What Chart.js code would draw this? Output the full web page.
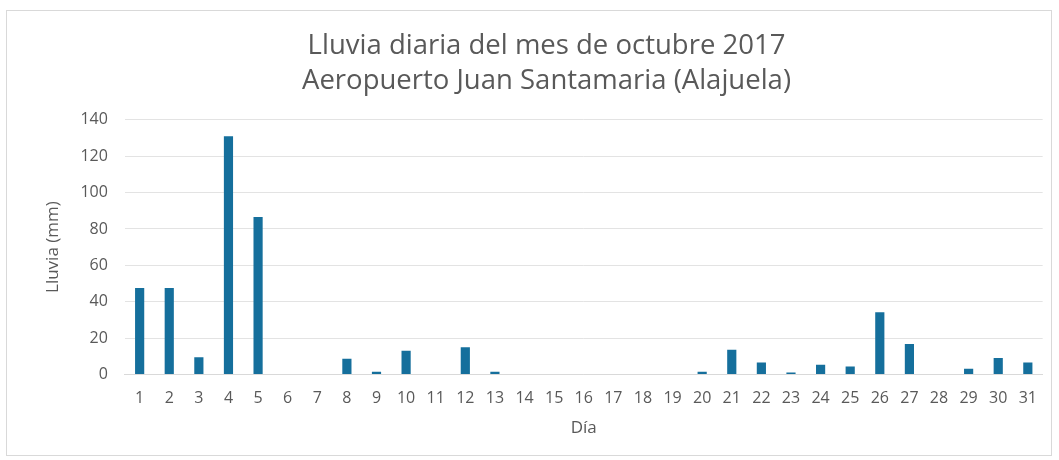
<!DOCTYPE html>
<html>
<head>
<meta charset="utf-8">
<script src="https://cdn.jsdelivr.net/npm/chart.js@4/dist/chart.umd.min.js"></script>
<style>
  body { margin: 0; background: #fff; }
  #box { position: absolute; left: 6px; top: 10px; width: 1044px; height: 444px; border: 1px solid #d9d9d9; }
</style>
</head>
<body>
<div id="box"><canvas id="lluvia" width="1044" height="444"></canvas></div>
<script>
let dias = ['1','2','3','4','5','6','7','8','9','10','11','12','13','14','15','16','17','18','19','20','21','22','23','24','25','26','27','28','29','30','31'];
let lluvia = [47.5, 47.5, 9.4, 131, 86.5, 0, 0, 8.6, 1.5, 13, 0, 15, 1.5, 0, 0, 0, 0, 0, 0, 1.5, 13.6, 6.6, 1, 5.3, 4.4, 34.2, 16.7, 0, 3.1, 9, 6.6];
let titulo = ['Lluvia diaria del mes de octubre 2017', 'Aeropuerto Juan Santamaria (Alajuela)'];
let gris = '#595959';

let ctx = document.getElementById('lluvia').getContext('2d');

const chart = new Chart(ctx,
  {
    type: 'bar',
    data:
    {
      labels: dias,
      datasets:
        [{
          data: lluvia,
          backgroundColor: '#156f9c',
          barPercentage: 0.31,
          categoryPercentage: 1
        }]
    },
    options:
    {
      responsive: false,
      animation: false,
      layout: { padding: { left: 36, right: 1, top: 8, bottom: 17 } },
      plugins:
      {
        legend: { display: false },
        tooltip: { enabled: false },
        title:
        {
          display: true,
          text: titulo,
          color: gris,
          font: { family: 'Open Sans', size: 27.5, weight: 'normal', lineHeight: 1.27 },
          padding: { top: 10, bottom: 21 }
        }
      },
      scales:
      {
        x:
        {
          grid: { display: false, drawTicks: false },
          border: { color: '#d9d9d9' },
          ticks: { color: gris, padding: 14, font: { family: 'Open Sans', size: 16 }, maxRotation: 0, autoSkip: false },
          title: { display: true, text: 'Día', color: gris, padding: { top: -4, bottom: 0 }, font: { family: 'Open Sans', size: 17 } }
        },
        y:
        {
          min: 0,
          max: 140,
          grid: { color: '#e3e3e3', drawTicks: false },
          border: { display: false },
          ticks: { stepSize: 20, color: gris, padding: 17, font: { family: 'Open Sans', size: 16 } },
          title: { display: true, text: 'Lluvia (mm)', color: gris, padding: { top: 0, bottom: 0 }, font: { family: 'Open Sans', size: 17 } }
        }
      }
    }
  })
</script>
</body>
</html>
